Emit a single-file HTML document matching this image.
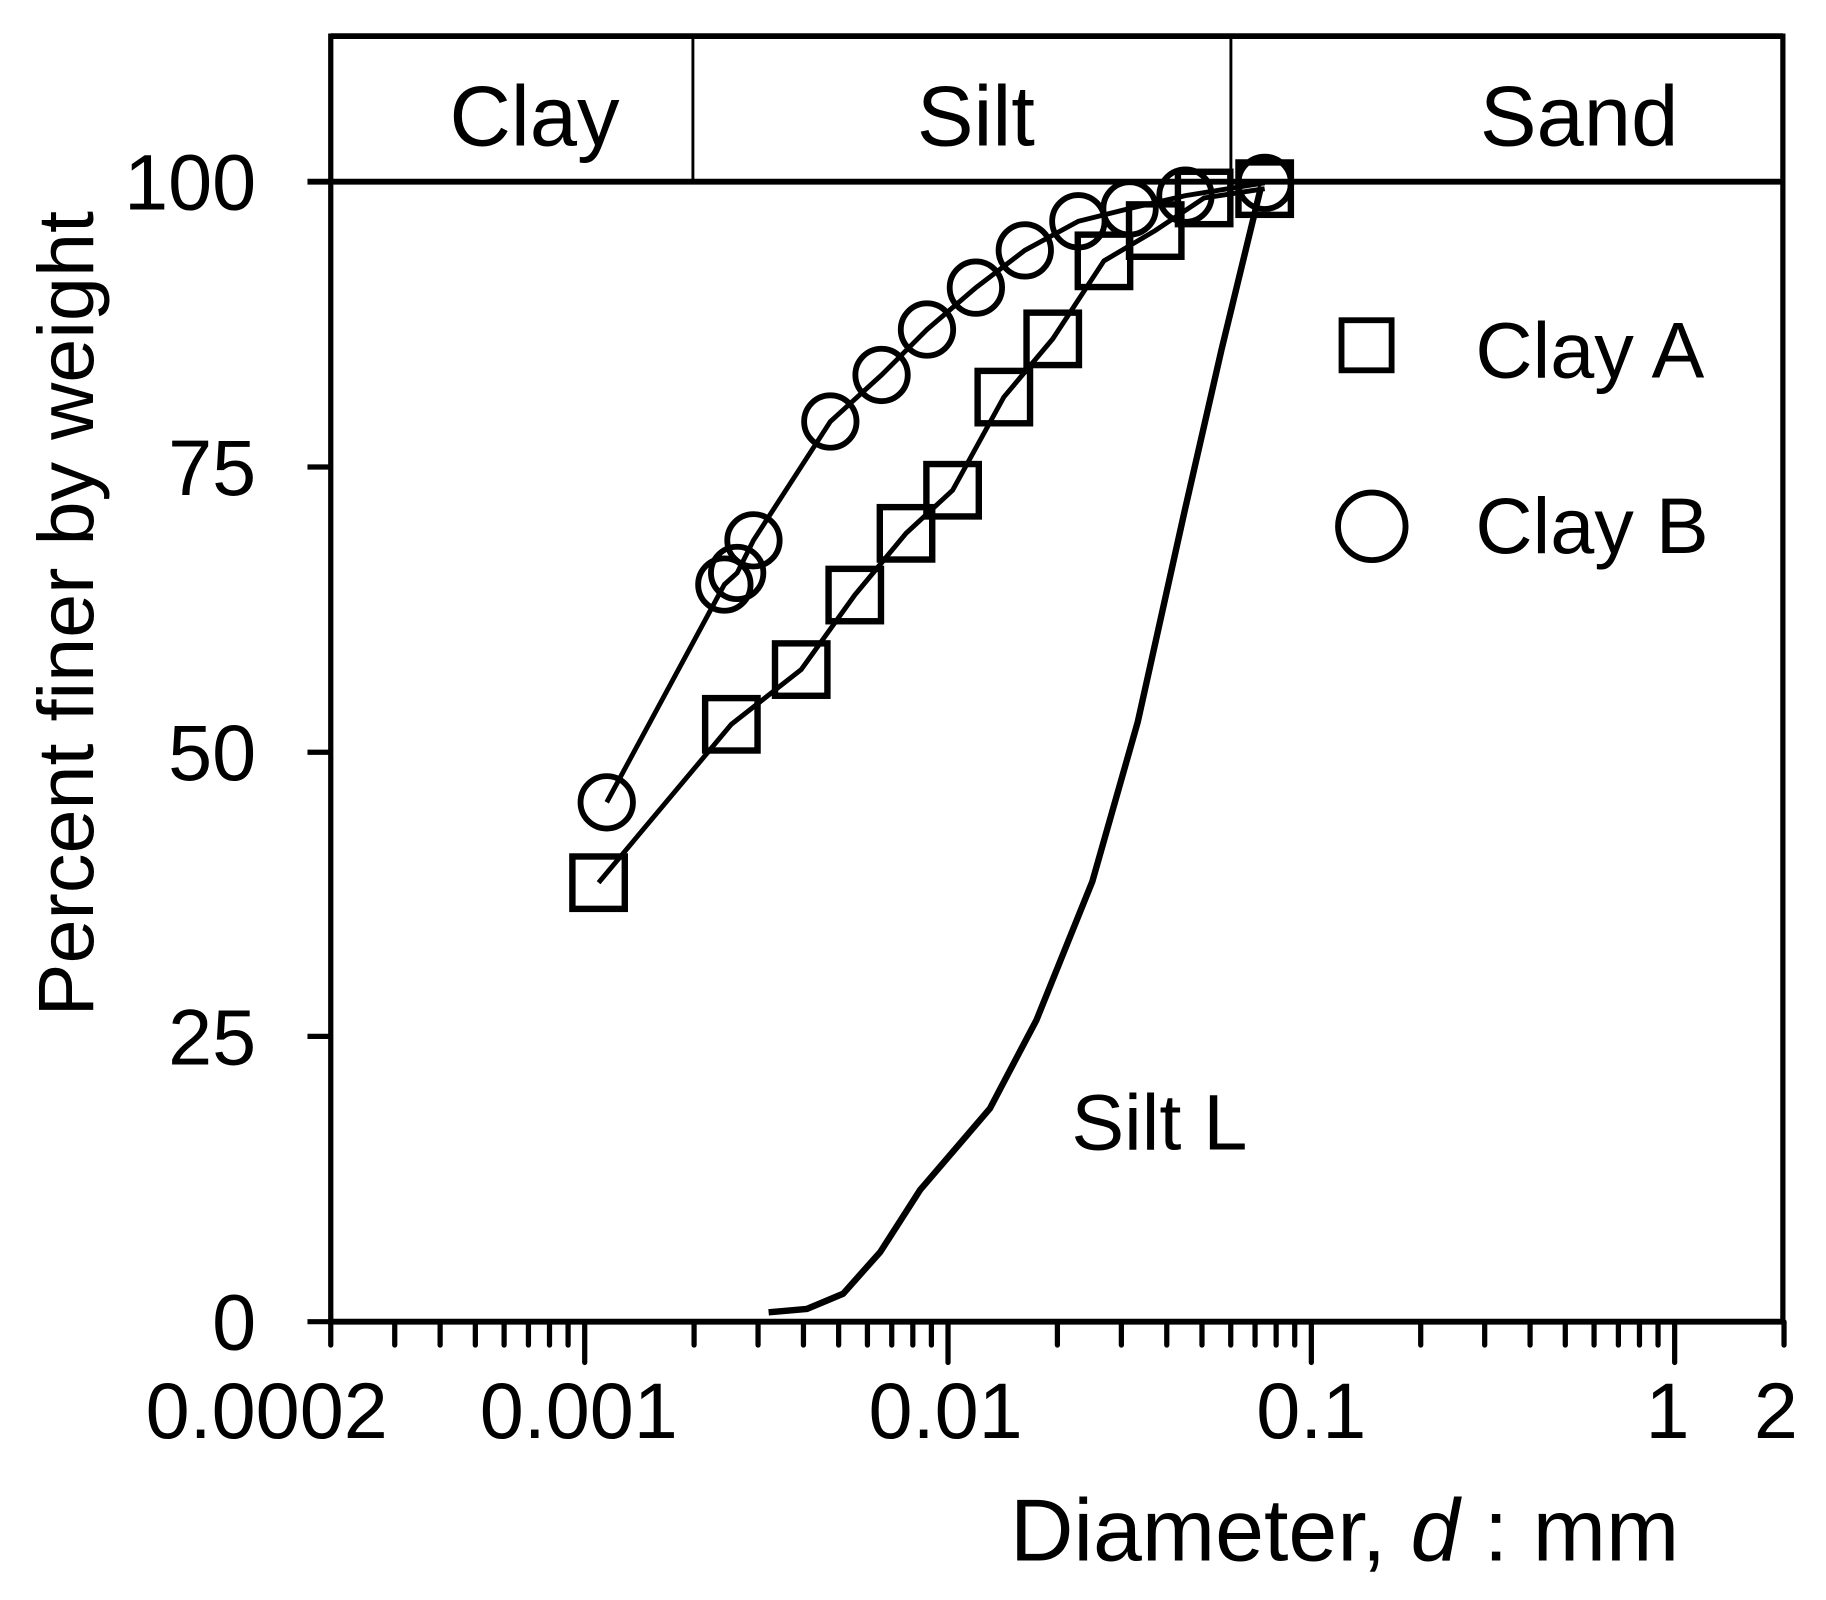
<!DOCTYPE html>
<html><head><meta charset="utf-8"><style>html,body{margin:0;padding:0;background:#fff}svg{display:block}</style></head>
<body>
<svg width="1826" height="1600" viewBox="0 0 1568 1374" xmlns="http://www.w3.org/2000/svg" font-family="Liberation Sans, Arial, sans-serif" fill="#000">
<rect width="1568" height="1374" fill="#fff"/>
<path d="M284,1135 L284,31 L1531,31 L1531,1135" fill="none" stroke="#000" stroke-width="4.5"/>
<line x1="284" y1="31" x2="1531" y2="31" stroke="#000" stroke-width="5"/>
<line x1="264" y1="156" x2="1533" y2="156" stroke="#000" stroke-width="5"/>
<line x1="284" y1="1135" x2="1533" y2="1135" stroke="#000" stroke-width="5"/>
<line x1="595" y1="31" x2="595" y2="156" stroke="#000" stroke-width="2.5"/>
<line x1="1057" y1="31" x2="1057" y2="156" stroke="#000" stroke-width="2.5"/>
<g font-size="73" text-anchor="middle">
<text x="459" y="125">Clay</text>
<text x="838" y="125">Silt</text>
<text x="1356" y="125">Sand</text>
</g>
<g stroke="#000" stroke-width="4.5">
<line x1="264" y1="401" x2="284" y2="401"/>
<line x1="264" y1="646" x2="284" y2="646"/>
<line x1="264" y1="890" x2="284" y2="890"/>
<line x1="264" y1="1135" x2="284" y2="1135"/>
</g>
<g font-size="68" text-anchor="end">
<text x="220" y="180">100</text>
<text x="220" y="425">75</text>
<text x="220" y="670">50</text>
<text x="220" y="914">25</text>
<text x="220" y="1159">0</text>
</g>
<g stroke="#000" stroke-width="4.5" stroke-linecap="round" id="xt"></g>
<g font-size="68" text-anchor="middle">
<text x="229" y="1235">0.0002</text>
<text x="497" y="1235">0.001</text>
<text x="812" y="1235">0.01</text>
<text x="1126" y="1235">0.1</text>
<text x="1432" y="1235">1</text>
<text x="1525" y="1235">2</text>
</g>
<text x="1442" y="1340" font-size="75.5" text-anchor="end">Diameter, <tspan font-style="italic">d</tspan> : mm</text>
<text transform="translate(80,527) rotate(-90)" font-size="68" text-anchor="middle">Percent finer by weight</text>
<polyline points="660,1127 693,1124 724,1111 756,1075 790,1022 850,952 890,876 938,757 977,620 1017,440 1049,300 1083,160" fill="none" stroke="#000" stroke-width="5.5" stroke-linejoin="round"/>
<text x="920" y="987" font-size="68">Silt L</text>
<polyline points="514,758 628,622 688,575 734,511 778,458 818,421 862,341 904,291 948,224 992,198 1034,170 1086,162" fill="none" stroke="#000" stroke-width="4.2"/>
<g fill="none" stroke="#000" stroke-width="5.5" id="sq"></g>
<polyline points="521,689 622,502 633,492 647,464 713,362 757,322 796,283 838,247 880,215 926,190 970,179 1018,168 1086,157" fill="none" stroke="#000" stroke-width="4.2"/>
<g fill="none" stroke="#000" stroke-width="5" id="ci"></g>
<rect x="1152" y="275" width="43" height="43" fill="none" stroke="#000" stroke-width="5"/>
<text x="1267" y="324" font-size="68">Clay A</text>
<circle cx="1178" cy="452" r="29" fill="none" stroke="#000" stroke-width="5"/>
<text x="1267" y="475" font-size="68">Clay B</text>
<script>
var ns="http://www.w3.org/2000/svg";
function X(d){return 284+312*Math.log10(d/0.0002);}
var xt=document.getElementById('xt');
var vals=[];
for(var m=2;m<=9;m++)vals.push([m*0.0001,false]);
[0.001,0.01,0.1,1].forEach(function(b){vals.push([b,true]);if(b<1){for(var m=2;m<=9;m++)vals.push([m*b,false]);}else vals.push([2,false]);});
vals.forEach(function(v){if(v[0]<0.00019)return;var l=document.createElementNS(ns,'line');var x=X(v[0]);l.setAttribute('x1',x);l.setAttribute('x2',x);l.setAttribute('y1',1135);l.setAttribute('y2',v[1]?1170:1155);xt.appendChild(l);});
var A=[[514,758],[628,622],[688,575],[734,511],[778,458],[818,421],[862,341],[904,291],[948,224],[992,198],[1034,170],[1086,162]];
var sq=document.getElementById('sq');
A.forEach(function(p){var r=document.createElementNS(ns,'rect');r.setAttribute('x',p[0]-22.5);r.setAttribute('y',p[1]-22.5);r.setAttribute('width',45);r.setAttribute('height',45);sq.appendChild(r);});
var B=[[521,689],[622,502],[633,492],[647,464],[713,362],[757,322],[796,283],[838,247],[880,215],[926,190],[970,179],[1018,168],[1086,157]];
var ci=document.getElementById('ci');
B.forEach(function(p){var c=document.createElementNS(ns,'circle');c.setAttribute('cx',p[0]);c.setAttribute('cy',p[1]);c.setAttribute('r',22.5);ci.appendChild(c);});
</script>
</svg>
</body></html>
